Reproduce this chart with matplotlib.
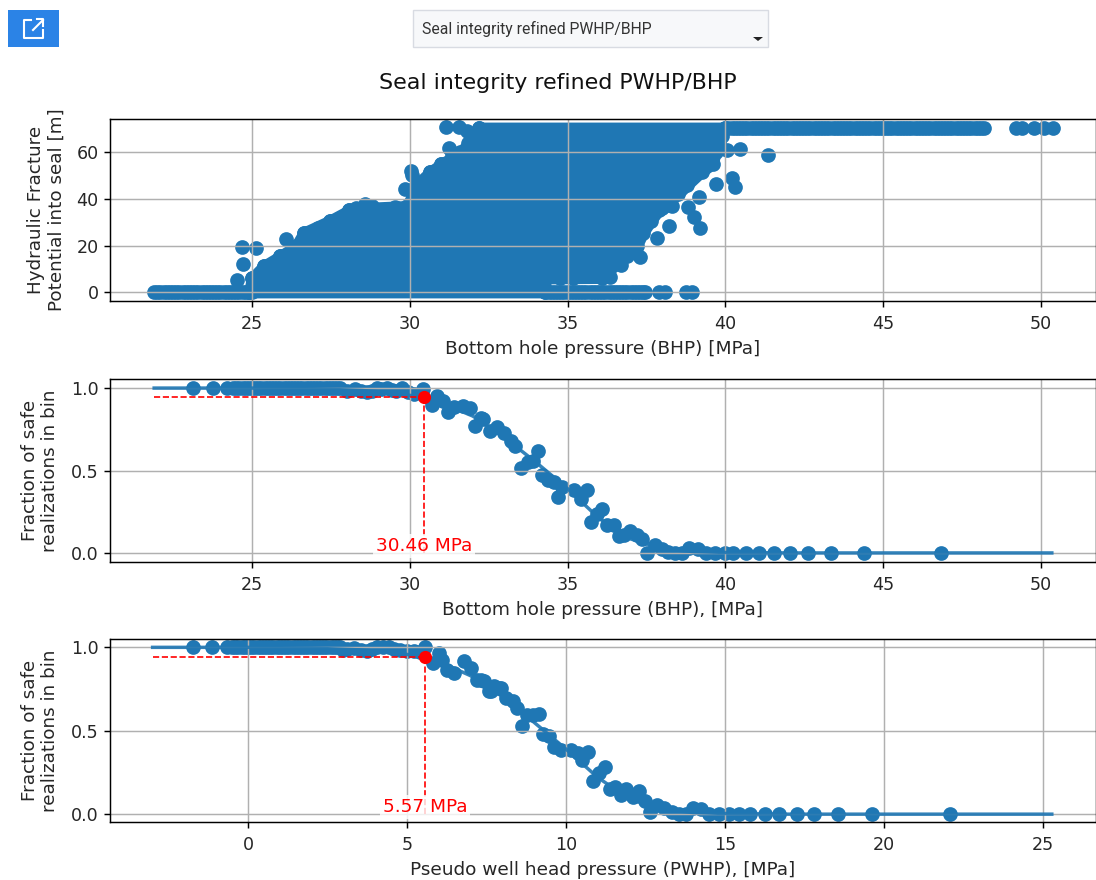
import matplotlib
matplotlib.use("Agg")
import matplotlib.pyplot as plt
from matplotlib.patches import Rectangle, Polygon
from matplotlib.lines import Line2D

W, H = 1096, 880
BLUE = "#1f77b4"
RED = "red"

title = "Seal integrity refined PWHP/BHP"

# ---- Panel 1: outline of the solid cloud (levels, left edge, right edge)
cloud_y = [0, 6, 6.2, 11.3, 15.6, 20, 25.6, 30.7, 35.3, 36.0, 37.0, 42, 46, 51.7, 55, 60, 64, 67, 70.6]
cloud_left = [24.9, 25.0, 25.0, 25.37, 25.9, 26.4, 26.64, 27.46, 28.09, 28.3, 29.9, 30.1, 30.2, 30.65, 31.0, 31.6, 31.86, 32.1, 32.2]
cloud_right = [34.3, 34.3, 36.1, 36.4, 36.9, 37.2, 37.4, 37.65, 37.9, 38.0, 38.05, 38.5, 38.8, 39.25, 39.6, 39.7, 39.8, 39.9, 40.0]

edge_x = [24.67, 25.13, 26.09, 24.73, 24.54, 25.37, 25.9, 26.64, 27.08, 27.46, 28.09, 28.59, 28.8, 29.36, 29.54,
          29.86, 30.04, 30.07, 30.65, 31.0, 31.25, 31.34, 31.15, 31.55, 31.8, 31.86,
          41.34, 40.47, 40.05, 40.3, 40.2, 39.7, 39.16, 38.82, 39.0, 39.2, 38.31, 38.22, 37.84, 37.3, 36.68, 36.34,
          35.95, 35.6, 35.17, 34.75]
edge_y = [19.4, 18.8, 22.8, 12.1, 5.3, 11.3, 15.6, 25.6, 27.4, 30.7, 35.3, 37.8, 37.1, 35.3, 36.4,
          44.1, 52.1, 50.3, 51.7, 55.0, 61.7, 58.8, 71.0, 70.7, 69.3, 56.0,
          58.9, 61.3, 61.0, 45.0, 48.9, 46.3, 41.0, 36.7, 32.1, 27.4, 37.0, 28.6, 23.4, 15.3, 11.7, 6.7,
          8.1, 7.1, 6.3, 6.0]

zero_x = [21.9, 22.0, 22.1, 22.2, 22.3, 22.4, 22.5, 22.6, 22.7, 22.8, 22.9, 23.0, 23.1, 23.2, 23.3, 23.4, 23.5,
          23.6, 23.7, 23.8, 23.9, 24.0, 24.1, 24.2, 24.3, 24.4, 24.5, 24.6, 24.7, 24.8, 24.9, 25.0,
          34.3, 34.4, 34.5, 34.6, 34.7, 34.8, 34.9, 35.0, 35.1, 35.2, 35.3, 35.4, 35.5, 35.6, 35.7, 35.8, 35.9,
          36.0, 36.1, 36.2, 36.3, 36.4, 36.5, 36.6, 36.7, 36.8, 36.9, 37.0, 37.1, 37.2, 37.3, 37.4, 37.45,
          37.9, 38.1, 38.76, 38.95]
top_x = [32.2, 40.0, 40.1, 40.2, 40.3, 40.4, 40.5, 40.6, 40.7, 40.8, 40.9, 41.0, 41.1, 41.2, 41.3, 41.4, 41.5,
         41.6, 41.7, 41.8, 41.9, 42.0, 42.1, 42.2, 42.3, 42.4, 42.5, 42.6, 42.7, 42.8, 42.9, 43.0, 43.1, 43.2,
         43.3, 43.4, 43.5, 43.6, 43.7, 43.8, 43.9, 44.0, 44.1, 44.2, 44.3, 44.4, 44.5, 44.6, 44.7, 44.8, 44.9,
         45.0, 45.1, 45.2, 45.3, 45.4, 45.5, 45.6, 45.7, 45.8, 45.9, 46.0, 46.1, 46.2, 46.3, 46.4, 46.5, 46.6,
         46.7, 46.8, 46.9, 47.0, 47.1, 47.2, 47.3, 47.4, 47.5, 47.6, 47.7, 47.8, 47.9, 48.0, 48.1, 48.2,
         49.2, 49.4, 49.8, 50.1, 50.4]

# ---- Panel 2: fraction of safe realizations against BHP
bhp_x = [23.13, 23.75, 24.2, 24.4, 24.5, 24.6, 24.7, 24.8, 24.9, 25.0, 25.1, 25.2, 25.3, 25.4, 25.5, 25.6, 25.7,
         25.8, 25.9, 26.0, 26.1, 26.2, 26.3, 26.4, 26.5, 26.6, 26.7, 26.8, 26.9, 27.0, 27.1, 27.2, 27.3, 27.4,
         27.5, 27.6, 27.7, 27.8, 28.0, 28.27, 28.45, 28.64, 28.8, 28.96, 29.1, 29.28, 29.45, 29.55, 29.76, 29.95, 30.13, 30.43,
         30.72, 30.86, 31.04, 31.2, 31.41, 31.68, 31.92, 32.08, 32.26, 32.33,
         32.54, 32.75, 33.0, 33.22, 33.35, 33.53, 33.74, 33.9, 34.06, 34.19, 34.37, 34.58, 34.71, 34.84, 35.21,
         35.42, 35.61, 35.73, 35.94, 36.1, 36.26, 36.47, 36.62, 36.78, 36.99, 37.2, 37.36, 37.52, 37.78, 37.99,
         38.2, 38.41, 38.62, 38.86, 39.14, 39.4, 39.66, 39.98, 40.24, 40.66, 41.08, 41.55, 42.04, 42.63, 43.35,
         44.4, 46.84]
bhp_y = [1.0, 1.0, 1.0, 1.0, 1.0, 1.0, 1.0, 1.0, 1.0, 1.0, 1.0, 1.0, 1.0, 1.0, 1.0, 1.0, 1.0,
         1.0, 1.0, 1.0, 1.0, 1.0, 1.0, 1.0, 1.0, 1.0, 1.0, 1.0, 1.0, 1.0, 1.0, 1.0, 1.0, 1.0,
         1.0, 1.0, 1.0, 1.0, 0.984, 0.994, 0.985, 0.974, 0.985, 0.998, 0.995, 0.998, 0.99, 0.984, 0.998, 0.975, 0.964, 0.994,
         0.897, 0.954, 0.923, 0.857, 0.883, 0.889, 0.879, 0.772, 0.817, 0.813,
         0.742, 0.762, 0.728, 0.681, 0.647, 0.514, 0.554, 0.56, 0.621, 0.474, 0.44, 0.429, 0.339, 0.399, 0.379,
         0.329, 0.379, 0.188, 0.238, 0.268, 0.167, 0.167, 0.103, 0.107, 0.133, 0.107, 0.087, 0.002, 0.05, 0.026,
         0.006, 0.0, 0.0, 0.03, 0.022, 0.0, 0.0, 0.0, 0.0, 0.0, 0.0, 0.0, 0.0, 0.0, 0.0,
         0.0, 0.0]
bhp_fit_x = [21.9, 25.0, 27.0, 28.5, 29.5, 30.46, 31.0, 32.0, 33.0, 34.0, 35.0, 36.0, 37.0, 38.0, 39.0, 40.0, 42.0, 50.35]
bhp_fit_y = [1.0, 1.0, 0.995, 0.985, 0.97, 0.943, 0.91, 0.83, 0.70, 0.55, 0.39, 0.21, 0.085, 0.025, 0.008, 0.003, 0.0, 0.0]
bhp_cut = 30.46
safe_cut = 0.943
bhp_label = "30.46 MPa"

# ---- Panel 3: fraction of safe realizations against PWHP
pwhp_x = [-1.73, -1.14, -0.67, -0.5, -0.4, -0.3, -0.2, -0.1, 0.0, 0.1, 0.2, 0.3, 0.4, 0.5, 0.6, 0.7, 0.8, 0.9,
          1.0, 1.1, 1.2, 1.3, 1.4, 1.5, 1.6, 1.7, 1.8, 1.9, 2.0, 2.1, 2.2, 2.3, 2.4, 2.5, 2.6, 2.7, 2.8, 2.9, 3.0,
          3.1, 3.32, 3.55, 3.74, 3.9, 4.05, 4.25, 4.42, 4.6, 4.79, 5.0, 5.21, 5.4, 5.58,
          5.82, 6.02, 6.1, 6.26, 6.47, 6.79, 7.0, 7.21, 7.33, 7.42, 7.59, 7.65, 7.75, 7.89, 7.96, 8.11, 8.32, 8.45,
          8.62, 8.79, 8.95, 9.14, 9.29, 9.48, 9.63, 9.84, 10.16, 10.37, 10.5, 10.68, 10.84, 11.05, 11.24, 11.38,
          11.55, 11.73, 11.89, 12.12, 12.29, 12.48, 12.65, 12.86, 13.09, 13.33, 13.56, 13.77, 13.98, 14.24, 14.49,
          14.82, 15.14, 15.43, 15.8, 16.26, 16.71, 17.26, 17.81, 18.56, 19.62, 22.08]
pwhp_y = [1.0, 1.0, 1.0, 1.0, 1.0, 1.0, 1.0, 1.0, 1.0, 1.0, 1.0, 1.0, 1.0, 1.0, 1.0, 1.0, 1.0, 1.0,
          1.0, 1.0, 1.0, 1.0, 1.0, 1.0, 1.0, 1.0, 1.0, 1.0, 1.0, 1.0, 1.0, 1.0, 1.0, 1.0, 1.0, 1.0, 1.0, 1.0, 0.985,
          0.99, 0.996, 0.985, 0.976, 0.99, 1.0, 1.0, 1.0, 0.99, 0.986, 0.98, 0.976, 0.97, 1.0,
          0.906, 0.966, 0.926, 0.866, 0.846, 0.92, 0.876, 0.806, 0.806, 0.796, 0.736, 0.736, 0.766, 0.756, 0.756, 0.696, 0.676, 0.636,
          0.526, 0.596, 0.596, 0.602, 0.48, 0.466, 0.4, 0.386, 0.382, 0.366, 0.326, 0.37, 0.2, 0.246, 0.28, 0.152,
          0.16, 0.116, 0.15, 0.102, 0.14, 0.076, 0.012, 0.056, 0.036, 0.012, 0.0, 0.0, 0.036, 0.03, 0.0,
          0.0, 0.0, 0.0, 0.0, 0.0, 0.0, 0.0, 0.0, 0.0, 0.0, 0.0]
pwhp_fit_x = [-3.0, 0.0, 2.0, 3.5, 4.5, 5.57, 6.0, 7.0, 8.0, 9.0, 10.0, 11.0, 12.0, 13.0, 14.0, 15.0, 17.0, 25.28]
pwhp_fit_y = [1.0, 1.0, 0.995, 0.985, 0.97, 0.943, 0.915, 0.83, 0.705, 0.55, 0.39, 0.22, 0.09, 0.03, 0.01, 0.004, 0.0, 0.0]
pwhp_cut = 5.57
pwhp_label = "5.57 MPa"

x_ticks_bhp = [25, 30, 35, 40, 45, 50]
x_ticks_pwhp = [0, 5, 10, 15, 20, 25]
y_ticks_hf = [0, 20, 40, 60]
y_ticks_frac = [0.0, 0.5, 1.0]


def axes_at(fig, left, top, right, bottom):
    return fig.add_axes([left / W, 1 - bottom / H, (right - left) / W, (bottom - top) / H])


plt.rcParams.update({
    "font.family": "DejaVu Sans",
    "font.size": 13.3,
    "xtick.labelsize": 12.6,
    "ytick.labelsize": 12.6,
    "axes.linewidth": 1.05,
    "xtick.major.size": 4.6,
    "ytick.major.size": 4.6,
    "xtick.major.width": 1.05,
    "ytick.major.width": 1.05,
    "xtick.major.pad": 5.5,
    "grid.linewidth": 1.05,
    "grid.color": "#b0b0b0",
    "text.color": "#262626",
    "axes.labelcolor": "#262626",
    "xtick.labelcolor": "#262626",
    "ytick.labelcolor": "#262626",
})
fig = plt.figure(figsize=(W / 100, H / 100), dpi=100, facecolor="white")

S = 112


def dots(ax, xs, ys):
    ax.scatter(xs, ys, s=S, color=BLUE, linewidths=0)


def finish(ax, xlabel, ylabel, xticks, yticks, xlim, ylim, label_x):
    ax.set_xlim(*xlim)
    ax.set_ylim(*ylim)
    ax.set_xticks(xticks)
    ax.set_yticks(yticks)
    ax.set_xlabel(xlabel, labelpad=5)
    ax.set_ylabel(ylabel, fontsize=13.2, linespacing=1.15)
    ax.yaxis.set_label_coords(label_x, 0.5)
    ax.grid(True)


def cut_marks(ax, x0, cut, label):
    ax.plot([x0, cut], [safe_cut, safe_cut], color=RED, ls="--", lw=1.2)
    ax.plot([cut, cut], [0.0, safe_cut], color=RED, ls="--", lw=1.2)
    ax.plot([cut], [safe_cut], "o", color=RED, ms=9.5, mew=0)
    ax.text(cut, -0.012, label, color=RED, ha="center", va="bottom", zorder=4,
            bbox=dict(fc="white", ec="none", alpha=0.8, pad=2))


ax1 = axes_at(fig, 110, 119, 1096, 301)
# the round edge gives the cloud most of the outline its overlapping dots have
ax1.fill_betweenx(cloud_y, cloud_left, cloud_right, facecolor=BLUE, edgecolor=BLUE,
                  linewidth=8, joinstyle="round", zorder=1)
dots(ax1, cloud_left, cloud_y)
dots(ax1, cloud_right, cloud_y)
dots(ax1, edge_x, edge_y)
dots(ax1, zero_x, [0.0] * len(zero_x))
dots(ax1, top_x, [70.6] * len(top_x))
finish(ax1, "Bottom hole pressure (BHP) [MPa]", "Hydraulic Fracture\nPotential into seal [m]",
       x_ticks_bhp, y_ticks_hf, (20.5, 51.75), (-3.7, 74.3), -0.0453)

ax2 = axes_at(fig, 110, 379, 1096, 562)
dots(ax2, bhp_x, bhp_y)
ax2.plot(bhp_fit_x, bhp_fit_y, color=BLUE, lw=2.5, alpha=0.9)
cut_marks(ax2, bhp_fit_x[0], bhp_cut, bhp_label)
finish(ax2, "Bottom hole pressure (BHP), [MPa]", "Fraction of safe\nrealizations in bin",
       x_ticks_bhp, y_ticks_frac, (20.5, 51.75), (-0.055, 1.055), -0.0515)

ax3 = axes_at(fig, 110, 639, 1096, 822)
dots(ax3, pwhp_x, pwhp_y)
ax3.plot(pwhp_fit_x, pwhp_fit_y, color=BLUE, lw=2.5, alpha=0.9)
cut_marks(ax3, pwhp_fit_x[0], pwhp_cut, pwhp_label)
finish(ax3, "Pseudo well head pressure (PWHP), [MPa]", "Fraction of safe\nrealizations in bin",
       x_ticks_pwhp, y_ticks_frac, (-4.34, 26.67), (-0.047, 1.05), -0.0515)

fig.text(558 / W, 1 - 83 / H, title, ha="center", va="center", fontsize=15.9, color="#111111")


def px_xy(x, y):
    return x / W, 1 - y / H


# ---- page furniture above the chart: export button and selector
fig.add_artist(Rectangle(px_xy(8, 47), 51 / W, 37 / H, transform=fig.transFigure, fc="#2b83e6", ec="none"))
icon = [[(31, 20), (24, 20), (24, 38), (43, 38), (43, 30)], [(33, 30), (43, 20)], [(37, 19.5), (43, 19.5), (43, 26)]]
for seg in icon:
    xs, ys = zip(*[px_xy(a, b) for a, b in seg])
    fig.add_artist(Line2D(xs, ys, color="white", lw=1.5, transform=fig.transFigure))
fig.add_artist(Rectangle(px_xy(413, 47), 355 / W, 37 / H, transform=fig.transFigure, fc="#f7f8fa", ec="#d8dbe2", lw=1))
fig.text(422 / W, 1 - 29 / H, title, ha="left", va="center", fontsize=11.3, family="Roboto", color="#333333")
fig.add_artist(Polygon([px_xy(753, 37), px_xy(763, 37), px_xy(758, 41)], closed=True,
                       transform=fig.transFigure, fc="#222222", ec="none"))

fig.savefig("out.png", dpi=100)
